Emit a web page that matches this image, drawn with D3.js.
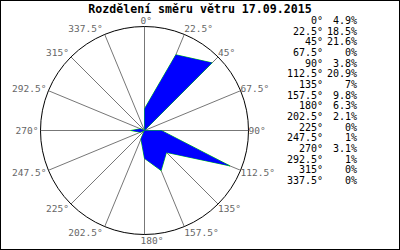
<!DOCTYPE html>
<html>
<head>
<meta charset="utf-8">
<script src="https://cdn.jsdelivr.net/npm/d3@7"></script>
<style>
  body { margin: 0; background: #fff; }
  text { font-family: "DejaVu Sans Mono", "Liberation Mono", monospace; }
</style>
</head>
<body>
<svg id="chart"></svg>
<script>
var title = "Rozdělení směru větru 17.09.2015";
var directions = [0, 22.5, 45, 67.5, 90, 112.5, 135, 157.5, 180, 202.5, 225, 247.5, 270, 292.5, 315, 337.5];
var percents = [4.9, 18.5, 21.6, 0, 3.8, 20.9, 7, 9.8, 6.3, 2.1, 0, 1, 3.1, 1, 0, 0];

var width = 400, height = 250;
var cx = 144.5, cy = 130.5, R = 104;

var svg = d3.select("#chart")
	.attr("width", width)
	.attr("height", height);

svg.append("rect")
	.attr("x", 0.5).attr("y", 0.5)
	.attr("width", width - 1).attr("height", height - 1)
	.attr("fill", "#fff").attr("stroke", "#000");

svg.append("text")
	.attr("x", 200).attr("y", 13)
	.attr("text-anchor", "middle")
	.style("font-size", "11.6px")
	.style("font-weight", "bold")
	.text(title);

// radius scale - biggest value sits a bit inside the circle
var r = d3.scaleLinear()
	.domain([0, d3.max(percents) / 0.92])
	.range([0, R]);

function px(a, rad) { return cx + rad * Math.sin(a * Math.PI / 180); }
function py(a, rad) { return cy - rad * Math.cos(a * Math.PI / 180); }

var g = svg.append("g");

// spokes
g.selectAll(".spoke")
	.data(directions).enter().append("line")
		.attr("class", "spoke")
		.attr("x1", cx).attr("y1", cy)
		.attr("x2", function (d) { return px(d, R); })
		.attr("y2", function (d) { return py(d, R); })
		.attr("stroke", "#777")
		.attr("stroke-width", 1);

g.append("circle")
	.attr("cx", cx).attr("cy", cy).attr("r", R)
	.attr("fill", "none")
	.attr("stroke", "#000")
	.attr("stroke-width", 1);

// spoke labels
g.selectAll(".lbl")
	.data(directions).enter().append("text")
		.attr("class", "lbl")
		.attr("x", function (d) {
			if (d == 0 || d == 180) return cx - 4;
			var s = Math.sin(d * Math.PI / 180);
			return px(d, R) + (s > 0 ? 0 : -2);
		})
		.attr("y", function (d) { return py(d, R + 6) + 3.5; })
		.attr("text-anchor", function (d) {
			if (d == 0 || d == 180) return "start";
			return Math.sin(d * Math.PI / 180) > 0 ? "start" : "end";
		})
		.attr("fill", "#666")
		.style("font-size", "9.5px")
		.text(function (d) { return d + "°"; });

// rose polygon
var pts = directions.map(function (d, i) {
	return [px(d, r(percents[i])), py(d, r(percents[i]))];
});
var line = d3.line().curve(d3.curveLinearClosed);

g.append("path")
	.attr("d", line(pts))
	.attr("fill", "none")
	.attr("stroke", "#00dd00")
	.attr("stroke-width", 1);
g.append("path")
	.attr("d", line(pts))
	.attr("fill", "#0000ff")
	.attr("stroke", "none");

// legend
var leg = svg.append("g");
leg.selectAll(".ang")
	.data(directions).enter().append("text")
		.attr("class", "ang")
		.attr("x", 323)
		.attr("y", function (d, i) { return 24 + i * 10.67; })
		.attr("text-anchor", "end")
		.style("font-size", "10px")
		.text(function (d) { return d + "°"; });
leg.selectAll(".pct")
	.data(percents).enter().append("text")
		.attr("class", "pct")
		.attr("x", 357)
		.attr("y", function (d, i) { return 24 + i * 10.67; })
		.attr("text-anchor", "end")
		.style("font-size", "10px")
		.text(function (d) { return d + "%"; });
</script>
</body>
</html>
